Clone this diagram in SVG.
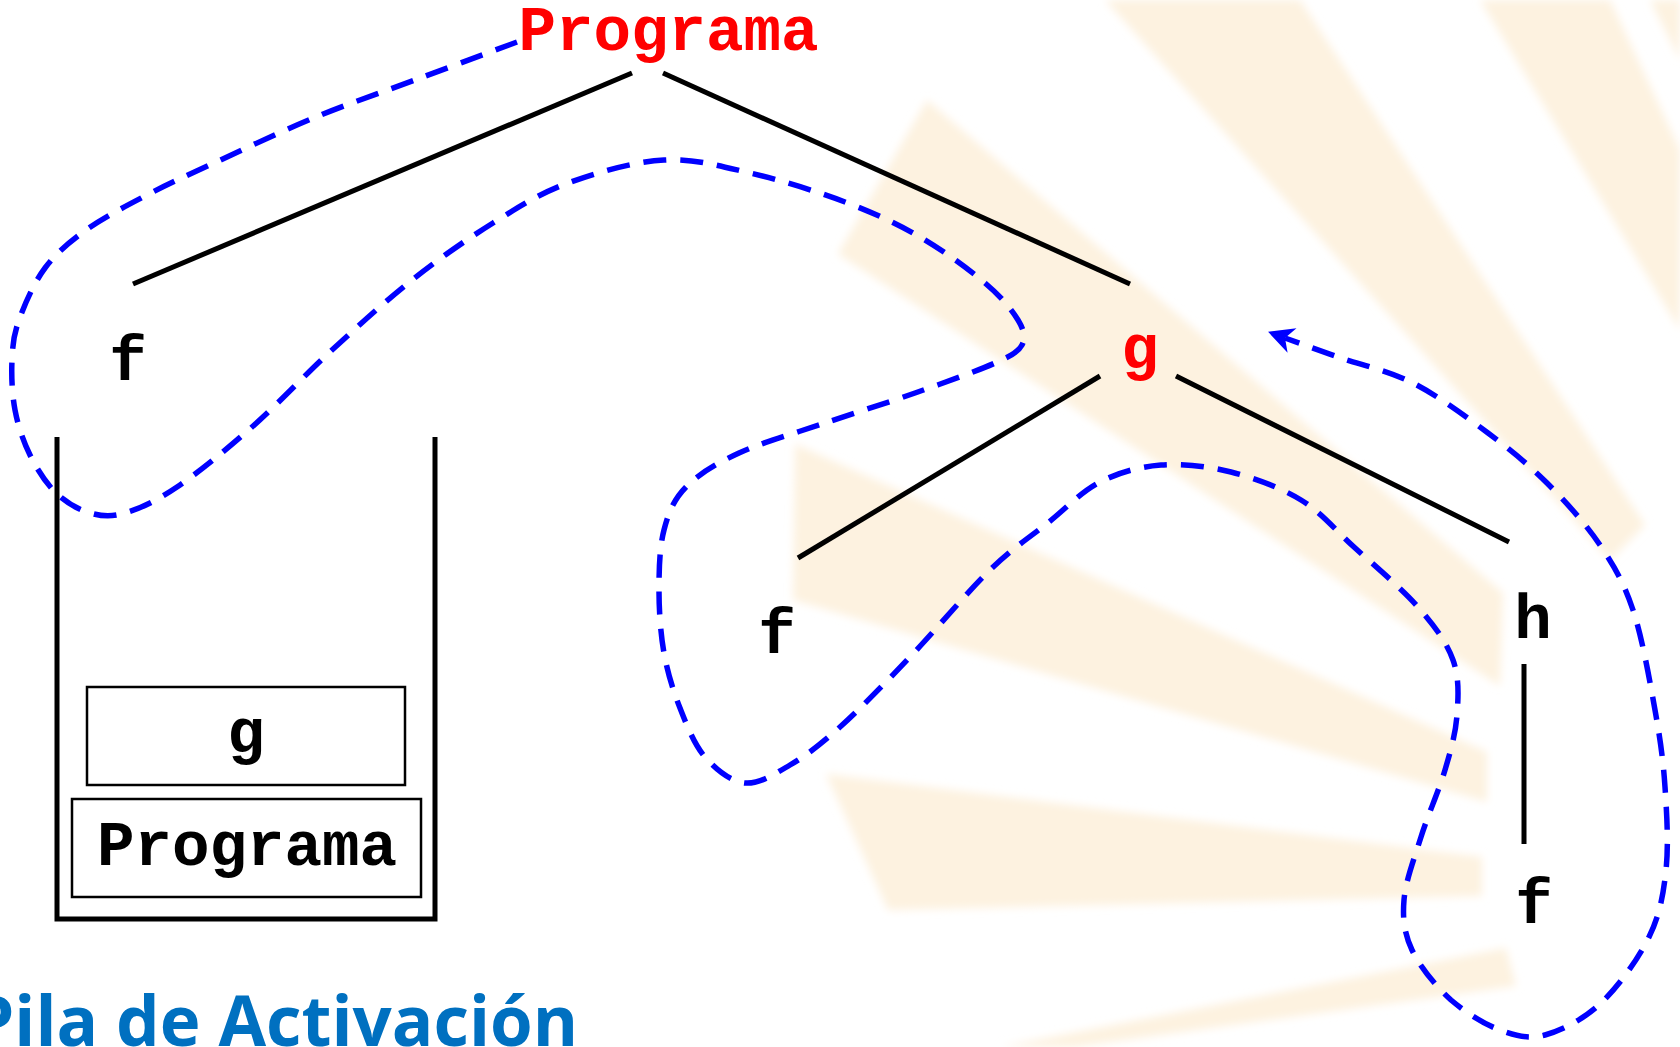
<svg xmlns="http://www.w3.org/2000/svg" width="1680" height="1047" viewBox="0 0 1680 1047">
<style>
.lbl{font-family:"Liberation Mono","Courier New",monospace;font-weight:bold;font-size:62.5px;text-anchor:middle}
.red{fill:#ff0000}
.blk{fill:#000}
.edge{stroke:#000;stroke-width:5;fill:none}
.trace{stroke:#0000ff;stroke-width:5.5;fill:none;stroke-dasharray:23 14}
.ray{fill:#fdf2e0}
.box{fill:none;stroke:#000;stroke-width:2.5}
.wall{fill:none;stroke:#000;stroke-width:5}
.title{font-family:"Open Sans","Noto Sans",sans-serif;font-weight:bold;font-size:69px;fill:#0070c0}
</style>
<defs>
<marker id="arr" markerUnits="userSpaceOnUse" markerWidth="40" markerHeight="40" refX="0" refY="0" viewBox="-20 -20 40 40" orient="auto">
<path d="M18,0 L-7.5,-13 L0,0 L-7.5,13 Z" fill="#0000ff"/>
</marker>
<filter id="soft" x="-5%" y="-5%" width="110%" height="110%">
<feGaussianBlur stdDeviation="4"/>
</filter>
</defs>
<rect width="1680" height="1047" fill="#fff"/>
<g id="background" filter="url(#soft)">
<polygon class="ray" points="927,100 838,254 1500,686 1503,593"/>
<polygon class="ray" points="1105,0 1300,0 1645,525 1610,560"/>
<polygon class="ray" points="1480,0 1610,0 1680,150 1680,330"/>
<polygon class="ray" points="1650,0 1680,0 1680,60"/>
<polygon class="ray" points="795,444 793,600 1487,802 1487,752"/>
<polygon class="ray" points="826,774 888,910 1482,896 1482,857"/>
<polygon class="ray" points="1000,1047 1075,1047 1516,986 1506,948"/>
</g>
<g id="connectors">
<line class="edge" x1="632" y1="73" x2="133" y2="284"/>
<line class="edge" x1="663" y1="73" x2="1130" y2="284"/>
<line class="edge" x1="1100" y1="376" x2="798" y2="558"/>
<line class="edge" x1="1176" y1="376" x2="1509" y2="542"/>
<line class="edge" x1="1524" y1="664" x2="1524" y2="844"/>
<path class="trace" marker-end="url(#arr)" d="M517,42 C501.3,47.8 456.5,64.5 423,77 C389.5,89.5 350.8,102.7 316,117 C281.2,131.3 242.2,150 214,163 C185.8,176 168.3,183.8 147,195 C125.7,206.2 103,217.8 86,230 C69,242.2 56.2,253 45,268 C33.8,283 24.5,304.7 19,320 C13.5,335.3 12.7,345 12,360 C11.3,375 12,394.2 15,410 C18,425.8 23.2,441.2 30,455 C36.8,468.8 46,483.3 56,493 C66,502.7 78.5,509.7 90,513 C101.5,516.3 110.5,517.3 125,513 C139.5,508.7 155.8,501.3 177,487 C198.2,472.7 226.2,449.8 252,427 C277.8,404.2 305.3,374.5 332,350 C358.7,325.5 385.2,301.2 412,280 C438.8,258.8 467,239.2 493,223 C519,206.8 539.5,193.5 568,183 C596.5,172.5 633.7,161.7 664,160 C694.3,158.3 719.8,166 750,173 C780.2,180 816.7,191.3 845,202 C873.3,212.7 896.7,223.5 920,237 C943.3,250.5 968.7,269.2 985,283 C1001.3,296.8 1011.8,309.7 1018,320 C1024.2,330.3 1025.8,337.8 1022,345 C1018.2,352.2 1012.8,355 995,363 C977.2,371 943.3,383 915,393 C886.7,403 854.3,413 825,423 C795.7,433 762.2,442.3 739,453 C715.8,463.7 698.5,474.2 686,487 C673.5,499.8 668.5,512.8 664,530 C659.5,547.2 659,569.5 659,590 C659,610.5 660.5,633.3 664,653 C667.5,672.7 673.2,690.7 680,708 C686.8,725.3 694.2,744.5 705,757 C715.8,769.5 730.8,781.7 745,783 C759.2,784.3 774.2,774.3 790,765 C805.8,755.7 820,745 840,727 C860,709 885,683.2 910,657 C935,630.8 966.8,592.5 990,570 C1013.2,547.5 1030.7,536.7 1049,522 C1067.3,507.3 1081.3,491.5 1100,482 C1118.7,472.5 1139.2,466.7 1161,465 C1182.8,463.3 1207.7,466.2 1231,472 C1254.3,477.8 1280.5,487.5 1301,500 C1321.5,512.5 1334.5,529.2 1354,547 C1373.5,564.8 1401.5,588.2 1418,607 C1434.5,625.8 1446.5,642 1453,660 C1459.5,678 1458.3,696.7 1457,715 C1455.7,733.3 1451,749.7 1445,770 C1439,790.3 1427.8,815.3 1421,837 C1414.2,858.7 1405.5,881.2 1404,900 C1402.5,918.8 1404.2,933.3 1412,950 C1419.8,966.7 1436.3,986.7 1451,1000 C1466.7,1013.3 1484.3,1024.2 1500,1030 C1515.7,1035.8 1528.2,1039.5 1545,1035 C1561.8,1030.5 1583.7,1019.3 1601,1003 C1618.3,986.7 1638.2,959.2 1649,937 C1659.8,914.8 1663.3,895 1666,870 C1668.7,845 1666.8,813.7 1665,787 C1663.2,760.3 1660.3,739.5 1655,710 C1649.7,680.5 1642.2,637.5 1633,610 C1623.8,582.5 1614.3,566.2 1600,545 C1585.7,523.8 1565.7,501.7 1547,483 C1528.3,464.3 1510.3,449.7 1488,433 C1465.7,416.3 1438,395.7 1413,383 C1388,370.3 1359.3,364.5 1338,357 C1316.7,349.5 1293.8,341.2 1285,338"/>
</g>
<g id="node-programa"><text class="lbl red" x="668.5" y="50">Programa</text></g>
<g id="node-f1"><text class="lbl blk" x="128" y="380">f</text></g>
<g id="node-g"><text class="lbl red" x="1140" y="368">g</text></g>
<g id="node-f2"><text class="lbl blk" x="777" y="653">f</text></g>
<g id="node-h"><text class="lbl blk" x="1533" y="638">h</text></g>
<g id="node-f3"><text class="lbl blk" x="1534" y="923">f</text></g>
<g id="stack">
<polyline class="wall" points="57,437 57,919 435,919 435,437"/>
<g id="stack-g">
<rect class="box" x="87" y="687" width="318" height="98"/>
<text class="lbl blk" x="246" y="752">g</text>
</g>
<g id="stack-programa">
<rect class="box" x="72" y="799" width="349" height="98"/>
<text class="lbl blk" x="247" y="865">Programa</text>
</g>
</g>
<g id="title"><text class="title" x="-29" y="1046">Pila de Activación</text></g>
</svg>
